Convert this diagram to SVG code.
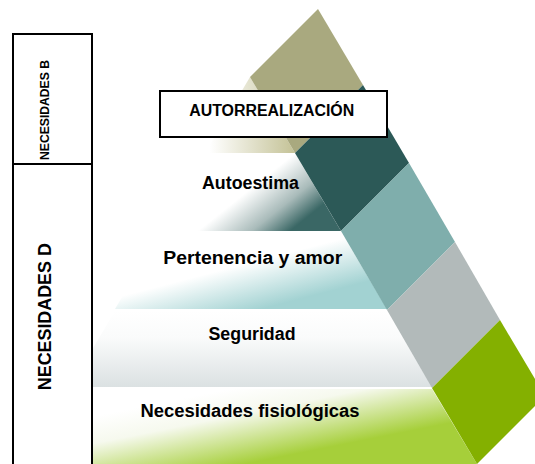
<svg xmlns="http://www.w3.org/2000/svg" width="535" height="464" viewBox="0 0 535 464">
  <style>
    .lbl { font-family: "Liberation Sans", Arial, sans-serif; font-weight: bold; fill: #000; text-anchor: middle; }
    .frame { fill: #fff; stroke: #000; stroke-width: 2; }
  </style>
  <defs>
    <linearGradient id="gTop" gradientUnits="userSpaceOnUse" x1="210" y1="0" x2="295" y2="0">
      <stop offset="0" stop-color="#ffffff"/>
      <stop offset="1" stop-color="#c4c296"/>
    </linearGradient>
    <linearGradient id="gEsteem" gradientUnits="userSpaceOnUse" x1="225" y1="160" x2="285" y2="235">
      <stop offset="0" stop-color="#ffffff"/>
      <stop offset="0.4" stop-color="#ffffff"/>
      <stop offset="0.75" stop-color="#a9bbba"/>
      <stop offset="1" stop-color="#3a6765"/>
    </linearGradient>
    <linearGradient id="gLove" gradientUnits="userSpaceOnUse" x1="230" y1="235" x2="250" y2="312">
      <stop offset="0" stop-color="#ffffff"/>
      <stop offset="0.4" stop-color="#ffffff"/>
      <stop offset="1" stop-color="#a2d2d2"/>
    </linearGradient>
    <linearGradient id="gSafe" gradientUnits="userSpaceOnUse" x1="0" y1="311" x2="0" y2="387">
      <stop offset="0" stop-color="#ffffff"/>
      <stop offset="0.35" stop-color="#fafbfb"/>
      <stop offset="1" stop-color="#dbe1e2"/>
    </linearGradient>
    <linearGradient id="gPhys" gradientUnits="userSpaceOnUse" x1="200" y1="395" x2="215" y2="470">
      <stop offset="0" stop-color="#ffffff"/>
      <stop offset="0.35" stop-color="#f6f9ee"/>
      <stop offset="1" stop-color="#a6cf3a"/>
    </linearGradient>
  </defs>

  <g id="level-autorrealizacion">
    <polygon points="250,77 295,153 205,153" fill="url(#gTop)"/>
    <polygon points="250,77 318,9 363,85 295,153" fill="#a9a97f"/>
  </g>
  <g id="level-autoestima">
    <polygon points="205,155 296,155 341,231 160,231" fill="url(#gEsteem)"/>
    <polygon points="295,153 363,85 409,163 341,231" fill="#2c5957"/>
    <text class="lbl" x="250.5" y="188.5" font-size="18" textLength="97" lengthAdjust="spacingAndGlyphs">Autoestima</text>
  </g>
  <g id="level-pertenencia">
    <polygon points="160,233 342,233 387,309 115,309" fill="url(#gLove)"/>
    <polygon points="341,231 409,163 455,242 387,310" fill="#7faeac"/>
    <text class="lbl" x="252.7" y="264.3" font-size="18" textLength="179" lengthAdjust="spacingAndGlyphs">Pertenencia y amor</text>
  </g>
  <g id="level-seguridad">
    <polygon points="115,311 387,311 432,387 70,387" fill="url(#gSafe)"/>
    <polygon points="387,310 455,242 500,320 432,388" fill="#b2baba"/>
    <text class="lbl" x="252" y="340.3" font-size="18" textLength="87" lengthAdjust="spacingAndGlyphs">Seguridad</text>
  </g>
  <g id="level-fisiologicas">
    <polygon points="70,389 432,389 477,464 25,464" fill="url(#gPhys)"/>
    <polygon points="432,388 500,320 545,396 477,464" fill="#84b000"/>
    <text class="lbl" x="250" y="417.3" font-size="18" textLength="219" lengthAdjust="spacingAndGlyphs">Necesidades fisiológicas</text>
  </g>

  <g id="box-autorrealizacion">
    <rect class="frame" x="160" y="91" width="227" height="46"/>
    <text class="lbl" x="271.7" y="116.3" font-size="16" textLength="165" lengthAdjust="spacingAndGlyphs">AUTORREALIZACIÓN</text>
  </g>

  <g id="box-necesidades">
    <rect class="frame" x="13" y="34" width="79" height="440"/>
    <line x1="13" y1="164" x2="92" y2="164" stroke="#000" stroke-width="2"/>
    <text class="lbl" transform="translate(48.5,110) rotate(-90)" x="0" y="0" font-size="13.5" textLength="100" lengthAdjust="spacingAndGlyphs">NECESIDADES B</text>
    <text class="lbl" transform="translate(51,316.7) rotate(-90)" x="0" y="0" font-size="19" textLength="147" lengthAdjust="spacingAndGlyphs">NECESIDADES D</text>
  </g>

  <g id="connectors"></g>
</svg>
